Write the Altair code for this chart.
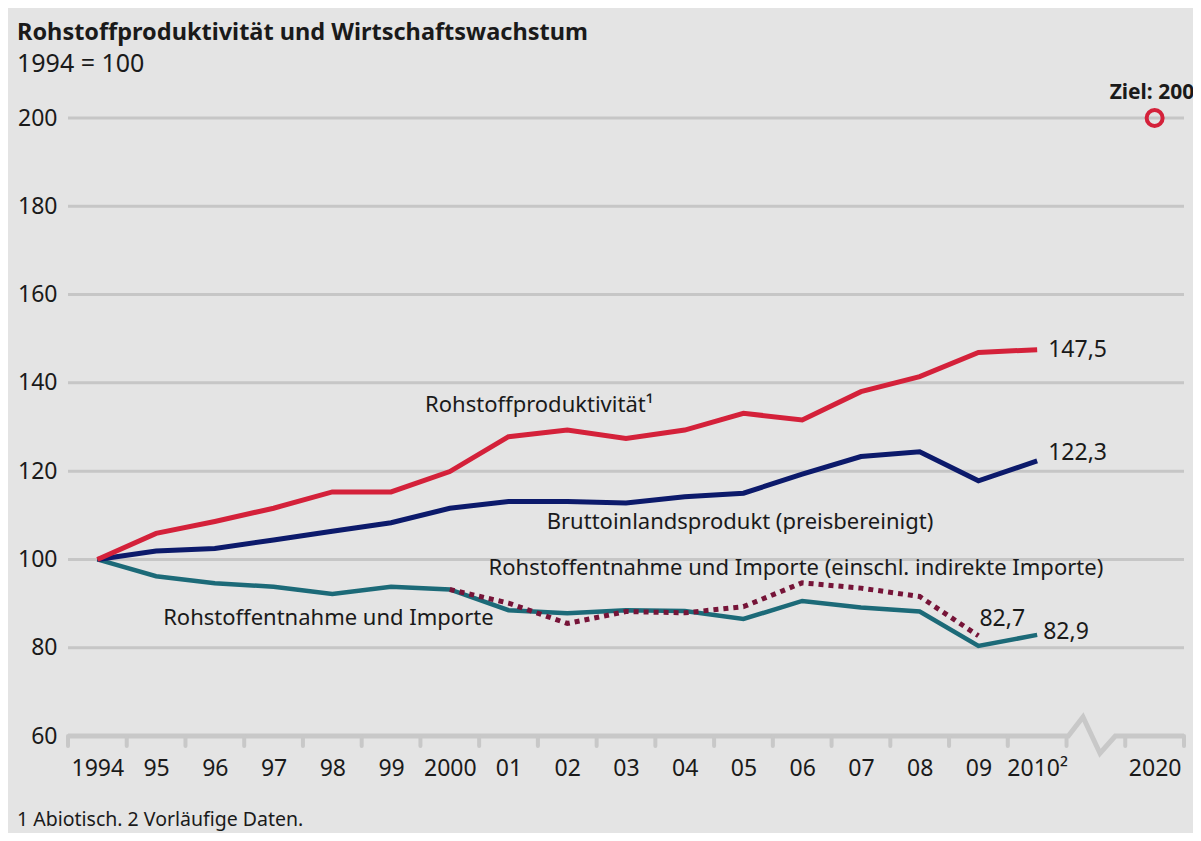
import altair as alt
import pandas as pd

# ---------------- data ----------------
year_labels = ["1994", "95", "96", "97", "98", "99", "2000", "01", "02", "03",
               "04", "05", "06", "07", "08", "09", "2010\u00b2"]
target_label = "2020"

rohstoffproduktivitaet = [100, 105.9, 108.6, 111.6, 115.3, 115.3, 119.9, 127.8, 129.3,
                          127.4, 129.3, 133.1, 131.6, 138.0, 141.4, 146.9, 147.5]
bip = [100, 101.9, 102.5, 104.4, 106.4, 108.3, 111.6, 113.1, 113.1,
       112.8, 114.2, 115.0, 119.3, 123.3, 124.4, 117.8, 122.3]
entnahme = [100, 96.2, 94.6, 93.8, 92.2, 93.8, 93.2, 88.5, 87.8,
            88.5, 88.3, 86.5, 90.6, 89.1, 88.2, 80.4, 82.9]
entnahme_indirekt = [None, None, None, None, None, None, 93.2, 90.1, 85.5,
                     88.2, 87.9, 89.3, 94.7, 93.5, 91.6, 82.7, None]
ziel_wert = 200

y_ticks = [60, 80, 100, 120, 140, 160, 180, 200]
grid_values = [80, 100, 120, 140, 160, 180, 200]

series_names = ["Rohstoffproduktivit\u00e4t\u00b9",
                "Bruttoinlandsprodukt (preisbereinigt)",
                "Rohstoffentnahme und Importe (einschl. indirekte Importe)",
                "Rohstoffentnahme und Importe"]
series_label_pos = [5.58, 7.65, 6.66, 1.12]
series_label_val = [135.0, 108.5, 98.0, 86.7]

# axis break (in axis units)
break_x = [-0.5, 16.53, 16.78, 17.07, 17.33, 18.5]
break_y = [60, 60, 64.3, 56.1, 60, 60]

title = "Rohstoffproduktivit\u00e4t und Wirtschaftswachstum"
subtitle = "1994 = 100"
footnote = "1 Abiotisch. 2 Vorl\u00e4ufige Daten."

# ---------------- tables ----------------
n = len(year_labels)
pos = list(range(n))
target_pos = n + 1  # after the axis break
all_labels = year_labels + [target_label]
all_pos = pos + [target_pos]
tick_bounds = [p - 0.5 for p in range(n + 1)] + [target_pos - 0.5, target_pos + 0.5]

def series_df(vals):
    return pd.DataFrame({"t": pos, "v": vals}).dropna()

FONT = "Noto Sans"
TXT = "#1a1a1a"
GRID = "#c6c6c6"

x_scale = alt.Scale(domain=[-0.5, target_pos + 0.5], nice=False, zero=False)
y_scale = alt.Scale(domain=[60, 200], nice=False, zero=False)

label_expr = "[" + ",".join("'" + s + "'" for s in all_labels) + "]"
label_expr = label_expr + "[datum.value <= " + str(n - 1) + " ? datum.value : " + str(n) + "]"

x_axis = alt.Axis(values=all_pos, labelExpr=label_expr, ticks=False, domain=False,
                  grid=False, labelFontSize=23, labelColor=TXT, labelFont=FONT,
                  labelPadding=21, title=None, labelFlush=False)
y_axis = alt.Axis(values=y_ticks, ticks=False, domain=False, grid=False,
                  labelFontSize=23, labelColor=TXT, labelFont=FONT,
                  labelPadding=11, title=None)

def X():
    return alt.X("t:Q", scale=x_scale, axis=x_axis)

def Y():
    return alt.Y("v:Q", scale=y_scale, axis=y_axis)

grid = alt.Chart(pd.DataFrame({"v": grid_values})).mark_rule(
    color=GRID, strokeWidth=3).encode(y=Y())

axis_line = alt.Chart(pd.DataFrame({"t": break_x, "v": break_y, "o": list(range(len(break_x)))})).mark_line(
    color="#c8c8c8", strokeWidth=5, clip=False, strokeJoin="miter").encode(
    x=X(), y=Y(), order="o:Q")

ticks = alt.Chart(pd.DataFrame({"t": tick_bounds})).mark_rule(
    color="#c8c8c8", strokeWidth=4, strokeCap="round").encode(
    x=X(), y=alt.value(618), y2=alt.value(628))

def line(vals, color, dash=None, width=5):
    kw = dict(color=color, strokeWidth=width, strokeJoin="miter")
    if dash:
        kw["strokeDash"] = dash
    return alt.Chart(series_df(vals)).mark_line(**kw).encode(x=X(), y=Y())

red = "#d4213a"
navy = "#0c1a6b"
teal = "#1c6a78"
maroon = "#761438"

l_red = line(rohstoffproduktivitaet, red)
l_bip = line(bip, navy)
l_ent = line(entnahme, teal, width=4.5)
l_ind = line(entnahme_indirekt, maroon, dash=[5, 5])

def fmt(v):
    return ("%.1f" % v).replace(".", ",")

def end_label(t, v, dx, dy):
    return alt.Chart(pd.DataFrame({"t": [t], "v": [v], "s": [fmt(v)]})).mark_text(
        align="left", baseline="middle", dx=dx, dy=dy, fontSize=23, font=FONT, color=TXT).encode(
        x=X(), y=Y(), text="s:N")

last = n - 1
e1 = end_label(last, rohstoffproduktivitaet[last], 11, 0)
e2 = end_label(last, bip[last], 11, -8)
e3 = end_label(last, entnahme[last], 6, -3)
e4 = end_label(last - 1, entnahme_indirekt[last - 1], 1, -17)

series_lbl = alt.Chart(pd.DataFrame({"t": series_label_pos, "v": series_label_val, "s": series_names})).mark_text(
    align="left", baseline="middle", fontSize=22, font=FONT, color=TXT).encode(
    x=X(), y=Y(), text="s:N")

ziel_df = pd.DataFrame({"t": [target_pos], "v": [ziel_wert], "s": ["Ziel: " + str(ziel_wert)]})
ziel_pt = alt.Chart(ziel_df).mark_point(shape="circle", filled=False, size=256, strokeWidth=4,
                                        color=red, opacity=1, clip=False).encode(x=X(), y=Y())
ziel_txt = alt.Chart(ziel_df).mark_text(align="left", baseline="middle", dx=-45, dy=-25,
                                        fontSize=21, fontWeight="bold", font=FONT, color=TXT,
                                        clip=False).encode(x=X(), y=Y(), text="s:N")

foot = alt.Chart(pd.DataFrame({"s": [footnote]})).mark_text(
    align="left", baseline="middle", fontSize=19.5, font=FONT, color=TXT).encode(
    x=alt.value(-51), y=alt.value(702), text="s:N")

chart = alt.layer(
    grid, axis_line, ticks, l_ent, l_ind, l_bip, l_red,
    e1, e2, e3, e4, series_lbl, ziel_pt, ziel_txt, foot
).properties(
    width=1116, height=618,
    title=alt.TitleParams(text=title, subtitle=subtitle, anchor="start", frame="group",
                          dx=-51, offset=5, font=FONT, fontSize=23.5, fontWeight="bold",
                          color=TXT, subtitleFont=FONT, subtitleFontSize=25,
                          subtitleColor=TXT, subtitlePadding=8),
    autosize=alt.AutoSizeParams(type="none"),
    padding={"left": 60, "top": 110, "right": 9, "bottom": 97},
).configure(background="#e4e4e4").configure_view(stroke=None)

chart.save("out.html", embed_options={"renderer": "svg", "actions": False})
